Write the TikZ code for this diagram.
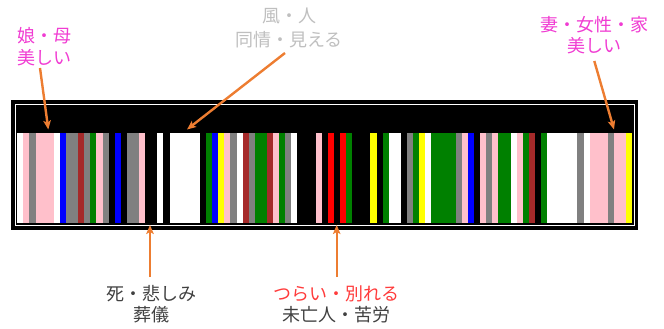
\documentclass[tikz,border=0pt]{standalone}
\usepackage{fontspec}
\setmainfont{Noto Sans CJK JP}
\usetikzlibrary{arrows.meta}
\definecolor{bpink}{HTML}{FFC0CB}
\definecolor{bgray}{HTML}{808080}
\definecolor{bblue}{HTML}{0000FF}
\definecolor{bbrown}{HTML}{A52A2A}
\definecolor{bgreen}{HTML}{008000}
\definecolor{byellow}{HTML}{FFFF00}
\definecolor{bred}{HTML}{FF0000}
\definecolor{bwhite}{HTML}{FFFFFF}
\definecolor{orangeA}{HTML}{ED7D31}
\definecolor{magentaT}{HTML}{F03CD2}
\definecolor{grayT}{HTML}{BFBFBF}
\definecolor{darkT}{HTML}{404040}
\definecolor{redT}{HTML}{FF3B3B}
\begin{document}
\begin{tikzpicture}[x=1pt,y=-1pt,
  lbl/.style={inner sep=0pt, font=\fontsize{18}{22}\selectfont},
  callout/.style={draw=orangeA, line width=2.4pt, -{Stealth[length=9pt,width=7.5pt,inset=2pt]}}]
\useasboundingbox (0,0) rectangle (664,329);
% frame
\fill[black] (11,100) rectangle (638,230);
\draw[white, line width=1pt] (15.5,104.5) rectangle (634.5,225.5);
% bars
\foreach \s/\n/\c in {0/1/bwhite,1/1/bpink,2/1/bgray,3/3/bpink,6/1/bwhite,7/1/bblue,8/2/bgray,10/1/bbrown,11/1/bgray,12/1/bgreen,13/1/bpink,14/1/bgray,16/1/bblue,18/2/bgray,20/1/bpink,23/1/bwhite,25/5/bwhite,31/1/bgreen,32/1/bblue,33/1/byellow,34/1/bpink,35/1/bgray,36/1/bwhite,37/1/bbrown,38/1/bgray,39/2/bgreen,41/1/bbrown,42/1/bpink,43/1/bgreen,44/1/bgray,45/1/bwhite,49/1/bpink,51/1/bred,53/1/bred,54/1/bgreen,58/1/byellow,60/1/bgreen,61/2/bwhite,64/1/bgray,65/1/bgreen,66/1/byellow,67/1/bwhite,68/4/bgreen,72/1/bgray,73/1/bpink,74/1/bblue,76/1/bpink,77/1/bgray,78/1/bpink,79/2/bgreen,81/1/bwhite,82/1/bpink,83/1/bgreen,84/1/bbrown,86/1/bgreen,87/5/bwhite,92/1/bgray,93/1/bwhite,94/3/bpink,97/1/bgray,98/2/bpink,100/1/byellow}
  \fill[\c] ({17.3+\s*6.089},133.3) rectangle ({17.3+(\s+\n)*6.089},223.3);
% labels
\node[lbl, text=magentaT, align=left, anchor=west] (mother) at (17,47) {娘・母\\美しい};
\node[lbl, text=grayT, align=center, font=\fontsize{18}{23.5}\selectfont] (wind) at (289,28.2) {風・人\\同情・見える};
\node[lbl, text=magentaT, align=center, font=\fontsize{18}{21}\selectfont] (wife) at (594.5,35.5) {妻・女性・家\\美しい};
\node[lbl, text=darkT, align=center, font=\fontsize{18}{21}\selectfont] (death) at (151,304.5) {死・悲しみ\\葬儀};
\node[lbl, align=center, font=\fontsize{18}{21}\selectfont] (parting) at (336.7,304.5) {\textcolor{redT}{つらい・別れる}\\\textcolor{darkT}{未亡人・苦労}};
% arrow ends
\coordinate (s1) at (40,68);    \coordinate (t1) at (48.3,129.5);
\coordinate (s2) at (285,53);   \coordinate (t2) at (187,129.5);
\coordinate (s3) at (594.3,61); \coordinate (t3) at (614,129.5);
\coordinate (s4) at (150,277);  \coordinate (t4) at (150,225);
\coordinate (s5) at (336.7,277);\coordinate (t5) at (336.7,225);
\draw[callout] (s1) -- (t1);
\draw[callout] (s2) -- (t2);
\draw[callout] (s3) -- (t3);
\draw[callout] (s4) -- (t4);
\draw[callout] (s5) -- (t5);
\end{tikzpicture}
\end{document}
